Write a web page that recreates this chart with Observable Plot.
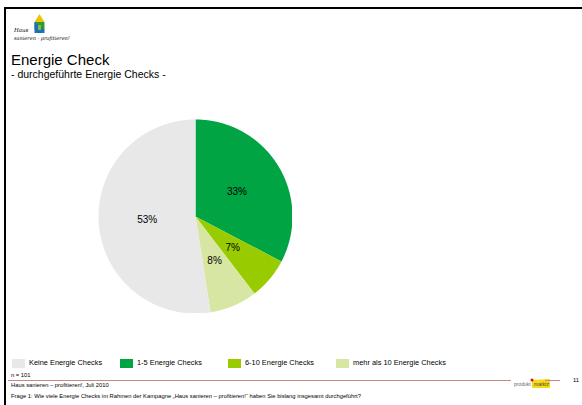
<!DOCTYPE html>
<html>
<head>
<meta charset="utf-8">
<script src="https://cdn.jsdelivr.net/npm/d3@7"></script>
<script src="https://cdn.jsdelivr.net/npm/@observablehq/plot@0.6"></script>
<style>
  html, body { margin: 0; padding: 0; background: #fff; }
  body { width: 582px; height: 405px; overflow: hidden; position: relative; font-family: "Liberation Sans", Arial, sans-serif; color: #000; }
  .abs { position: absolute; white-space: nowrap; }
  #topline { left: 4px; top: 7px; width: 578px; height: 2px; background: #000; }
  #leftline { left: 4px; top: 7px; width: 2px; height: 398px; background: #000; }
  #title { left: 11px; top: 51px; font-size: 15px; line-height: 17px; }
  #subtitle { left: 11px; top: 68px; font-size: 10.5px; line-height: 12px; }
  #chart { left: 98px; top: 119px; }
  .leg { top: 358px; font-size: 7.4px; line-height: 10px; display: flex; align-items: center; }
  .sw { width: 13px; height: 9px; margin-right: 4px; }
  .small { font-size: 5.8px; line-height: 7px; }
  #rule1 { left: 8px; top: 380px; width: 503px; height: 1px; background: #cf8585; }
  #rule2 { left: 545px; top: 380px; width: 15px; height: 1px; background: #cf8585; }
</style>
</head>
<body>
<div id="topline" class="abs"></div>
<div id="leftline" class="abs"></div>

<svg class="abs" style="left:12px;top:12px" width="80" height="32" viewBox="0 0 80 32">
  <polygon points="27.5,2 32.5,10 22.5,10" fill="#f2c200"/>
  <rect x="22.5" y="10" width="10" height="8" fill="#2e9a3a"/>
  <polygon points="22.5,10 32.5,18 22.5,18" fill="#1f6fb5"/>
  <polygon points="26,13 29,13 29,18 26,18" fill="#7cc242"/>
  <polygon points="22.5,18 32.5,18 32.5,21 22.5,21" fill="#1f6fb5"/>
  <text x="2" y="19.5" font-family="DejaVu Serif" font-style="italic" font-size="5.5">Haus</text>
  <text x="2" y="27.5" font-family="DejaVu Serif" font-style="italic" font-size="5">sanieren - profitieren!</text>
</svg>

<div id="title" class="abs">Energie Check</div>
<div id="subtitle" class="abs">- durchgeführte Energie Checks -</div>

<div id="chart" class="abs"></div>

<div id="legend"></div>

<div class="abs small" style="left:11px;top:371.5px">n = 101</div>
<div id="rule1" class="abs"></div>
<div class="abs" style="left:512px;top:375px;width:40px;height:11px;">
  <svg width="40" height="11">
    <polygon points="20,2 38,1 38,10 20,10" fill="#f7d914"/>
    <circle cx="20" cy="2" r="1.5" fill="#e3001b"/>
    <text x="2" y="8" font-size="5" fill="#666" font-family="Liberation Sans">produkt</text>
    <text x="22" y="8" font-size="5" fill="#444" font-family="Liberation Sans">marktz</text>
  </svg>
</div>
<div id="rule2" class="abs"></div>
<div class="abs small" style="left:573px;top:377px">11</div>
<div class="abs small" style="left:11px;top:381.5px">Haus sanieren – profitieren!, Juli 2010</div>
<div class="abs small" style="left:11px;top:392.5px">Frage 1: Wie viele Energie Checks im Rahmen der Kampagne „Haus sanieren – profitieren!“ haben Sie bislang insgesamt durchgeführt?</div>

<script>
// ---- data ----
const categories = ["1-5 Energie Checks", "6-10 Energie Checks", "mehr als 10 Energie Checks", "Keine Energie Checks"];
const values = [33, 7, 8, 53];
const labels = ["33%", "7%", "8%", "53%"];
const colors = ["#00a443", "#99cc00", "#d7e6a2", "#e8e8e8"];
const legendOrder = ["Keine Energie Checks", "1-5 Energie Checks", "6-10 Energie Checks", "mehr als 10 Energie Checks"];

// ---- build slices from data ----
const slices = categories.map((c, i) => ({cat: c, value: values[i], label: labels[i]}));
const pie = d3.pie().sort(null).value(d => d.value)(slices);
const polys = [];
const labelPts = [];
pie.forEach(p => {
  const n = Math.max(2, Math.ceil((p.endAngle - p.startAngle) / 0.01));
  polys.push({cat: p.data.cat, x: 0, y: 0});
  for (let k = 0; k <= n; k++) {
    const a = p.startAngle + (p.endAngle - p.startAngle) * k / n;
    polys.push({cat: p.data.cat, x: Math.sin(a), y: Math.cos(a)});
  }
  polys.push({cat: p.data.cat, x: 0, y: 0});
  const m = (p.startAngle + p.endAngle) / 2;
  labelPts.push({label: p.data.label, x: 0.5 * Math.sin(m), y: 0.5 * Math.cos(m)});
});

const size = 194;
const chart = Plot.plot({
  width: size,
  height: size,
  margin: 0,
  x: {domain: [-1, 1], axis: null},
  y: {domain: [-1, 1], axis: null},
  color: {domain: categories, range: colors},
  style: {background: "transparent", fontFamily: "Liberation Sans, Arial, sans-serif"},
  marks: [
    Plot.line(polys, {x: "x", y: "y", z: "cat", fill: "cat", stroke: "none", curve: "linear"}),
    Plot.text(labelPts, {x: "x", y: "y", text: "label", fontSize: 10, fill: "#000"})
  ]
});
document.getElementById("chart").appendChild(chart);

// ---- legend ----
const legendX = [12, 120, 228, 336];
const legend = document.getElementById("legend");
legendOrder.forEach((c, i) => {
  const d = document.createElement("div");
  d.className = "abs leg";
  d.style.left = legendX[i] + "px";
  const sw = document.createElement("div");
  sw.className = "sw";
  sw.style.background = colors[categories.indexOf(c)];
  const t = document.createElement("span");
  t.textContent = c;
  d.appendChild(sw);
  d.appendChild(t);
  legend.appendChild(d);
});
</script>
</body>
</html>
